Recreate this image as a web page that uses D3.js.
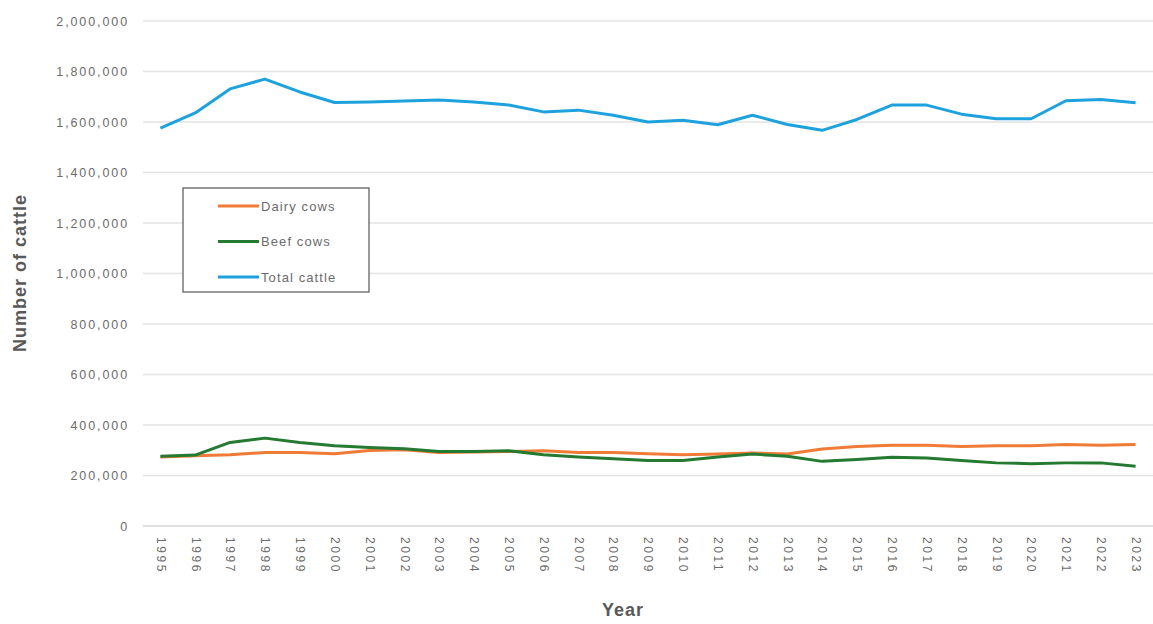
<!DOCTYPE html>
<html>
<head>
<meta charset="utf-8">
<script src="https://cdn.jsdelivr.net/npm/d3@7"></script>
<style>
  html, body { margin: 0; padding: 0; background: #fff; }
  svg { display: block; font-family: "Liberation Sans", Arial, sans-serif; }
</style>
</head>
<body>
<svg id="chart" width="1153" height="624"></svg>
<script>
// Cattle numbers by year, 1995–2023
const years = [1995, 1996, 1997, 1998, 1999, 2000, 2001, 2002, 2003, 2004,
               2005, 2006, 2007, 2008, 2009, 2010, 2011, 2012, 2013, 2014,
               2015, 2016, 2017, 2018, 2019, 2020, 2021, 2022, 2023];

const dairyCows = [273000, 278000, 282000, 291000, 291000, 286000, 299000, 302000, 291000, 293000,
                   295000, 298000, 291000, 291000, 286000, 282000, 285000, 289000, 285000, 305000,
                   315000, 320000, 320000, 315000, 318000, 318000, 323000, 320000, 323000];

const beefCows = [276000, 281000, 331000, 348000, 331000, 318000, 311000, 306000, 295000, 295000,
                  298000, 282000, 273000, 266000, 259000, 259000, 273000, 285000, 276000, 256000,
                  263000, 272000, 269000, 259000, 250000, 247000, 250000, 250000, 237000];

const totalCattle = [1576000, 1636000, 1731000, 1770000, 1719000, 1677000, 1679000, 1683000, 1687000, 1679000,
                     1667000, 1640000, 1647000, 1627000, 1600000, 1607000, 1589000, 1627000, 1590000, 1567000,
                     1610000, 1667000, 1667000, 1631000, 1613000, 1613000, 1684000, 1689000, 1676000];

const yTicks = [0, 200000, 400000, 600000, 800000, 1000000, 1200000, 1400000, 1600000, 1800000, 2000000];

const seriesNames = ["Dairy cows", "Beef cows", "Total cattle"];
const seriesColors = ["#ef7b36", "#237a30", "#1ea2de"];
const seriesValues = [dairyCows, beefCows, totalCattle];

const svg = d3.select("#chart");
const margin = { left: 143, right: 0, top: 21, bottom: 98 };
const W = 1153, H = 624;
const labelColor = "#6b6b6b";

const x = d3.scalePoint()
  .domain(years)
  .range([margin.left, W - margin.right])
  .padding(0.5);

const y = d3.scaleLinear()
  .domain([0, 2000000])
  .range([H - margin.bottom, margin.top]);

// Horizontal gridlines
svg.append("g")
  .selectAll("line")
  .data(yTicks)
  .join("line")
  .attr("x1", margin.left)
  .attr("x2", W - margin.right)
  .attr("y1", d => y(d))
  .attr("y2", d => y(d))
  .attr("stroke", d => d === 0 ? "#d6d6d6" : "#e3e3e3")
  .attr("stroke-width", 1.3);

// Y axis labels
const yAxis = d3.axisLeft(y)
  .tickValues(yTicks)
  .tickFormat(d3.format(","))
  .tickSize(0)
  .tickPadding(0);

svg.append("g")
  .attr("transform", `translate(${margin.left - 14},0)`)
  .call(yAxis)
  .call(g => g.select(".domain").remove())
  .call(g => g.selectAll("text")
    .attr("fill", labelColor)
    .attr("font-size", 12.5)
    .attr("letter-spacing", 1.9)
    .attr("font-family", "'Liberation Sans', Arial, sans-serif"));

// X axis labels, rotated
const xAxis = d3.axisBottom(x).tickSize(0).tickPadding(0);
svg.append("g")
  .attr("transform", `translate(0,${y(0)})`)
  .call(xAxis)
  .call(g => g.select(".domain").remove())
  .call(g => g.selectAll("text")
    .attr("fill", labelColor)
    .attr("font-size", 12)
    .attr("letter-spacing", 2.6)
    .attr("font-family", "'Liberation Sans', Arial, sans-serif")
    .attr("text-anchor", "start")
    .attr("dy", "0.35em")
    .attr("transform", "translate(0,11) rotate(90)"));

// Lines
const line = d3.line()
  .x((d, i) => x(years[i]))
  .y(d => y(d));

svg.append("g")
  .selectAll("path")
  .data(seriesValues)
  .join("path")
  .attr("d", d => line(d))
  .attr("fill", "none")
  .attr("stroke", (d, i) => seriesColors[i])
  .attr("stroke-width", 3)
  .attr("stroke-linejoin", "round");

// Axis titles
svg.append("text")
  .attr("x", 623)
  .attr("y", 616)
  .attr("text-anchor", "middle")
  .attr("font-size", 18)
  .attr("letter-spacing", 1)
  .attr("font-weight", "bold")
  .attr("fill", "#595959")
  .text("Year");

svg.append("text")
  .attr("transform", "translate(26,273) rotate(-90)")
  .attr("text-anchor", "middle")
  .attr("font-size", 18)
  .attr("letter-spacing", 1)
  .attr("font-weight", "bold")
  .attr("fill", "#595959")
  .text("Number of cattle");

// Legend
const legend = svg.append("g").attr("transform", "translate(183,188)");
legend.append("rect")
  .attr("width", 186)
  .attr("height", 104)
  .attr("fill", "#fff")
  .attr("stroke", "#555")
  .attr("stroke-width", 1.2);

const items = legend.selectAll("g.item")
  .data(seriesNames)
  .join("g")
  .attr("class", "item")
  .attr("transform", (d, i) => `translate(0,${18 + i * 35.5})`);

items.append("line")
  .attr("x1", 35).attr("x2", 76)
  .attr("stroke", (d, i) => seriesColors[i])
  .attr("stroke-width", 3);

items.append("text")
  .attr("x", 78)
  .attr("dy", "0.35em")
  .attr("font-size", 13)
  .attr("letter-spacing", 1.1)
  .attr("fill", labelColor)
  .text(d => d);
</script>
</body>
</html>
